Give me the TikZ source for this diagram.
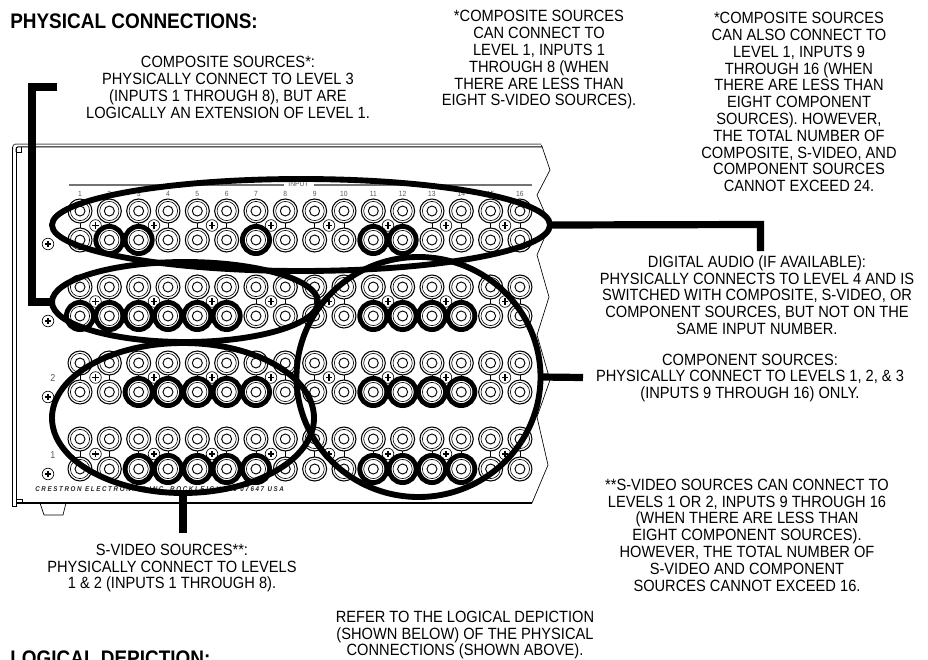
\documentclass[tikz,border=0pt]{standalone}
\usepackage{fontspec}
\setmainfont[FakeStretch=0.9]{Liberation Sans}
\newfontfamily\cresfont[LetterSpace=23.5,FakeStretch=0.9]{Liberation Sans}
\usetikzlibrary{shapes.geometric}
\tikzset{
  note/.style={align=center,inner sep=0pt,font=\fontsize{12.2}{12.6}\selectfont},
  heading/.style={anchor=base west,inner sep=0pt,font=\fontsize{15.8}{17}\selectfont\bfseries},
  tiny/.style={inner sep=0pt,text=black!65,font=\fontsize{5.6}{6}\selectfont},
  lasso/.style={draw,ellipse,line width=4.4pt,inner sep=0pt,outer sep=0pt},
  leader/.style={line width=5.4pt,line cap=butt,line join=miter},
  panelline/.style={line width=0.75pt},
  hot/.style={line width=3.6pt},
}
\newcommand{\jack}[2]{%
  \draw[line width=0.8pt,fill=white] (#1,#2) circle (12);
  \draw[line width=0.45pt] (#1,#2) circle (9.6);
  \draw[line width=0.7pt] (#1,#2) circle (5);
}
\newcommand{\screw}[2]{%
  \draw[line width=0.5pt,fill=white] (#1,#2) circle (5.8);
  \draw[line width=1.1pt] (#1-3.2,#2) -- (#1+3.2,#2) (#1,#2-3.2) -- (#1,#2+3.2);
}
\begin{document}
\begin{tikzpicture}[x=0.75pt,y=-0.75pt]
\useasboundingbox (0,0) rectangle (928,660);
\clip (0,0) rectangle (928,660);
% panel outline
\draw[panelline,draw=black!65] (12.7,150) -- (12.7,147) to[out=90,in=180] (16,144) -- (541,144);
\draw[panelline] (16,152) -- (16,150) to[out=90,in=180] (18,146.8) -- (542,146.8);
\draw[panelline] (12.7,147) -- (12.7,506) -- (16,506) -- (16,147);
\draw[line width=0.5pt] (16,152) -- (21,152) -- (21,147);
\draw[line width=0.5pt] (17,499) -- (22,499) -- (22,503);
\draw[line width=0.9pt] (16,503) -- (532,503);
\draw[line width=0.5pt] (541.5,145) -- (550,170) -- (537,195) -- (550,225) -- (537,255) -- (549,297) -- (537,335) -- (550,380) -- (537,417) -- (548,465) -- (532,503);
\draw[line width=0.5pt] (40,503) -- (44,515) -- (63,515) -- (66,503);
% input rule and numbers
\draw[line width=0.8pt,draw=black!55] (69,185) -- (284,185) (314,185) -- (532,185);
\node[tiny] (inputlabel) at (298.5,184) {INPUT};
\foreach \n in {1,...,16} {
  \node[tiny] (num\n) at ({80+29.33*(\n-1)},193.5) {\n};
}
\node[tiny,font=\fontsize{7.5}{8}\selectfont] (lvltwo) at (53,378) {2};
\node[tiny,font=\fontsize{7.5}{8}\selectfont] (lvlone) at (53,455) {1};
% side screws
\screw{48}{244}\screw{48}{321}\screw{48}{397}\screw{48}{474}
% rows
\foreach \ya/\yb in {211/240,287/316,363/392,439/469} {
  \pgfmathsetmacro{\ym}{(\ya+\yb)/2}
  \foreach \xs in {95.5,154,212,271,329,388,446,505} { \screw{\xs}{\ym} }
  \foreach \n in {1,...,16} {
    \pgfmathsetmacro{\xx}{80+29.33*(\n-1)}
    \draw[line width=0.4pt] (\xx,\ya+10) -- (\xx,\yb-10);
    \jack{\xx}{\ya}
    \jack{\xx}{\yb}
  }
}
% highlighted jacks
\foreach \yy/\cols in {240/{2,3,7,11,12},316/{1,2,3,4,5,6,11,12,13,14},392/{3,4,5,6,7,11,12,13,14},469/{3,4,5,6,7,11,12,13,14}} {
  \foreach \n in \cols {
    \draw[hot] ({80+29.33*(\n-1)},\yy) circle (13.6);
  }
}
% maker line
\node[anchor=base west,inner sep=0pt,text=black!85,font=\fontsize{5.2}{6}\cresfont\bfseries\itshape] (maker) at (35,491.5) {CRESTRON ELECTRONICS INC. ROCKLEIGH, NJ 07647 USA};
% lassos
\node[lasso,minimum width=373.5pt,minimum height=69pt] (audio) at (301,225) {};
\node[lasso,minimum width=199.5pt,minimum height=60pt] (composite) at (185,302) {};
\node[lasso,minimum width=196.5pt,minimum height=112.5pt] (svideo) at (183,418) {};
\node[lasso,minimum width=183pt,minimum height=180pt] (component) at (418.5,377) {};
% leaders
\coordinate (ctop) at (57,87);
\coordinate (cmid) at (32,87);
\coordinate (ajoint) at (760.5,224.5);
\coordinate (aend) at (760.5,251);
\coordinate (cend) at (583,377.5);
\coordinate (send) at (183,533);
\draw[leader] (ctop) -- (cmid) -- (cmid |- composite.west) -- (composite.west);
\draw[leader] (audio.east) -- (ajoint) -- (aend);
\draw[leader] (component.east) -- (cend);
\draw[leader] (svideo.south -| send) -- (send);
% text
\node[heading] (title) at (10,29) {PHYSICAL CONNECTIONS:};
\node[heading] (title2) at (10,665) {LOGICAL DEPICTION:};
\node[note] (n1) at (228,87.5) {COMPOSITE SOURCES*:\\PHYSICALLY CONNECT TO LEVEL 3\\(INPUTS 1 THROUGH 8), BUT ARE\\LOGICALLY AN EXTENSION OF LEVEL 1.};
\node[note] (n2) at (539,60) {*COMPOSITE SOURCES\\CAN CONNECT TO\\LEVEL 1, INPUTS 1\\THROUGH 8 (WHEN\\THERE ARE LESS THAN\\EIGHT S-VIDEO SOURCES).};
\node[note] (n3) at (799,102) {*COMPOSITE SOURCES\\CAN ALSO CONNECT TO\\LEVEL 1, INPUTS 9\\THROUGH 16 (WHEN\\THERE ARE LESS THAN\\EIGHT COMPONENT\\SOURCES). HOWEVER,\\THE TOTAL NUMBER OF\\COMPOSITE, S-VIDEO, AND\\COMPONENT SOURCES\\CANNOT EXCEED 24.};
\node[note] (n4) at (757,295) {DIGITAL AUDIO (IF AVAILABLE):\\PHYSICALLY CONNECTS TO LEVEL 4 AND IS\\SWITCHED WITH COMPOSITE, S-VIDEO, OR\\COMPONENT SOURCES, BUT NOT ON THE\\SAME INPUT NUMBER.};
\node[note] (n5) at (750,378) {COMPONENT SOURCES:\\PHYSICALLY CONNECT TO LEVELS 1, 2, \& 3\\(INPUTS 9 THROUGH 16) ONLY.};
\node[note] (n6) at (747,535) {**S-VIDEO SOURCES CAN CONNECT TO\\LEVELS 1 OR 2, INPUTS 9 THROUGH 16\\(WHEN THERE ARE LESS THAN\\EIGHT COMPONENT SOURCES).\\HOWEVER, THE TOTAL NUMBER OF\\S-VIDEO AND COMPONENT\\SOURCES CANNOT EXCEED 16.};
\node[note] (n7) at (172,568) {S-VIDEO SOURCES**:\\PHYSICALLY CONNECT TO LEVELS\\1 \& 2 (INPUTS 1 THROUGH 8).};
\node[note] (n8) at (465,635) {REFER TO THE LOGICAL DEPICTION\\(SHOWN BELOW) OF THE PHYSICAL\\CONNECTIONS (SHOWN ABOVE).};
\end{tikzpicture}
\end{document}
